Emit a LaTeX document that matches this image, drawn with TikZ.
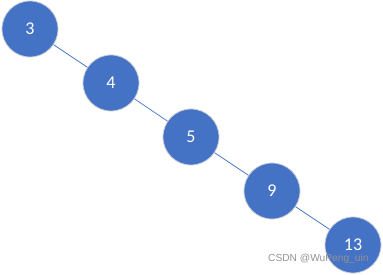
\documentclass[tikz,border=0pt]{standalone}
\usepackage{fontspec}
\setmainfont{Carlito}
\newfontfamily\markfont{Liberation Sans}
\definecolor{nodeblue}{HTML}{4472C4}
\definecolor{rimgray}{HTML}{C8CCD6}
\begin{document}
\begin{tikzpicture}[x=1pt,y=-1pt,
  treenode/.style={circle,fill=nodeblue,draw=rimgray,line width=0.8pt,
    minimum size=56pt,inner sep=0pt,text=white,font=\fontsize{18}{18}\selectfont},
  treeedge/.style={draw=nodeblue,line width=0.7pt}]
\useasboundingbox (0,0) rectangle (383,275);
% chain of tree nodes
\node[treenode] (n3)  at (30,29)  {3};
\node[treenode] (n4)  at (111,83) {4};
\node[treenode] (n5)  at (191,137) {5};
\node[treenode] (n9)  at (272,191) {9};
\node[treenode] (n13) at (353,245) {13};
% links between consecutive nodes
\draw[treeedge] (n3) -- (n4);
\draw[treeedge] (n4) -- (n5);
\draw[treeedge] (n5) -- (n9);
\draw[treeedge] (n9) -- (n13);
\node[anchor=west,text=gray!85,font=\markfont\fontsize{10.2}{10.2}\selectfont,inner sep=0pt] (mark) at (268,259) {CSDN @WuPeng\_uin};
\end{tikzpicture}
\end{document}
